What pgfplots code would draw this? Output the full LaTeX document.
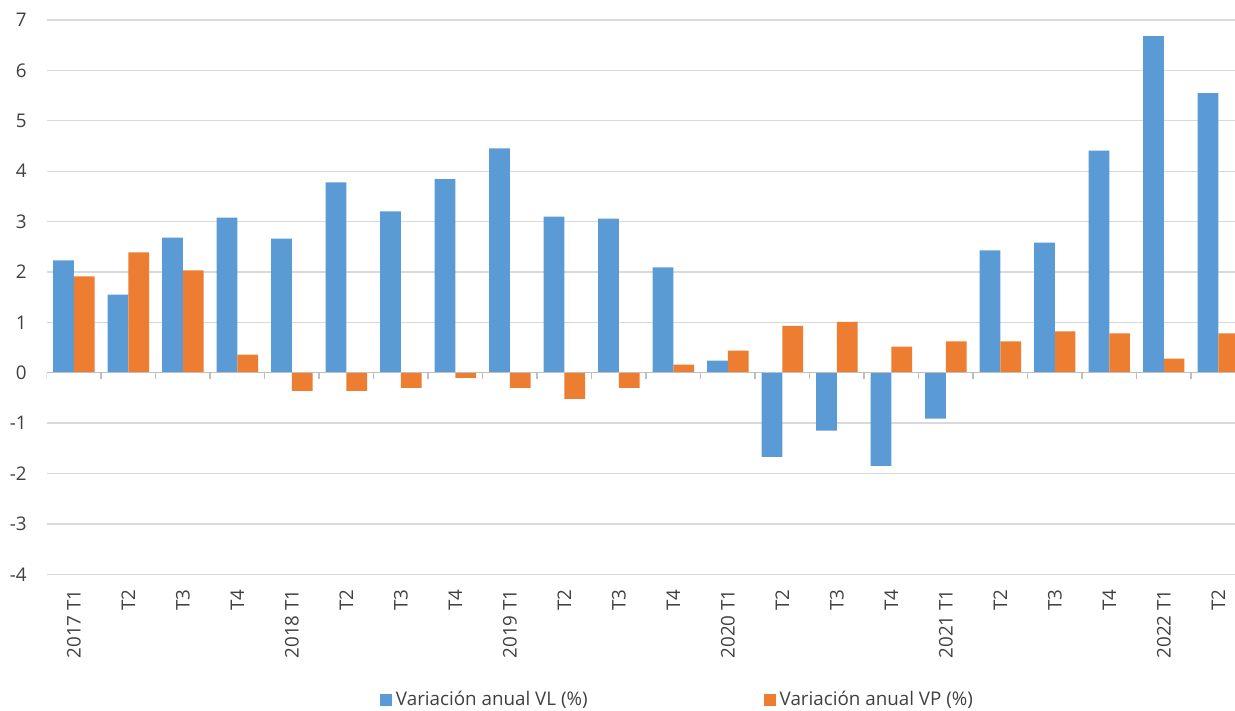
\documentclass[border=0pt]{standalone}
\usepackage{fontspec}
\setmainfont{Open Sans}
\usepackage{pgfplots}
\pgfplotsset{compat=1.18}
\definecolor{cblue}{HTML}{5B9BD5}
\definecolor{corange}{HTML}{ED7D31}
\definecolor{cgrid}{HTML}{D9D9D9}
\definecolor{caxis}{HTML}{BFBFBF}
\definecolor{ctext}{HTML}{404040}
\begin{document}
\begin{tikzpicture}[font=\fontsize{9.4}{11}\selectfont]
\useasboundingbox (0,0) rectangle (617.5pt,355.5pt);
\clip (0,0) rectangle (617.5pt,355.5pt);
\begin{axis}[
 at={(23.35pt,68.35pt)}, anchor=south west,
 scale only axis, width=599.4pt, height=277.15pt,
 xmin=-0.5, xmax=21.5, ymin=-4, ymax=7,
 axis line style={draw=none},
 major tick length=0pt,
 ytick={-4,...,7},
 yticklabels={-4,-3,-2,-1,0,1,2,3,4,5,6,7},
 yticklabel shift=6.5pt,
 ymajorgrids, grid style={cgrid, line width=0.65pt},
 xtick={0,...,21},
 xticklabels={2017 T1,T2,T3,T4,2018 T1,T2,T3,T4,2019 T1,T2,T3,T4,2020 T1,T2,T3,T4,2021 T1,T2,T3,T4,2022 T1,T2},
 xticklabel style={rotate=90, anchor=east},
 xticklabel shift=4pt,
 ticklabel style={text=ctext},
 legend style={at={(0.527,-0.227)}, anchor=center, draw=none, fill=none,
   text=ctext, font=\fontsize{9.4}{11}\selectfont,
   /tikz/every even column/.append style={column sep=86pt}},
 legend columns=2,
 legend cell align=left,
]
\addplot[ybar, bar width=10.35pt, bar shift=-5.175pt, fill=cblue, draw=none,
  legend image code/.code={\fill[cblue] (0pt,-3pt) rectangle (6pt,3pt);}]
 coordinates {(0,2.23) (1,1.55) (2,2.68) (3,3.08) (4,2.66) (5,3.78) (6,3.20) (7,3.84) (8,4.45) (9,3.10) (10,3.06) (11,2.09) (12,0.24) (13,-1.67) (14,-1.15) (15,-1.85) (16,-0.91) (17,2.43) (18,2.58) (19,4.41) (20,6.68) (21,5.55)};
\addlegendentry{Variación anual VL (\%)}
\addplot[ybar, bar width=10.35pt, bar shift=5.175pt, fill=corange, draw=none,
  legend image code/.code={\fill[corange] (0pt,-3pt) rectangle (6pt,3pt);}]
 coordinates {(0,1.91) (1,2.39) (2,2.03) (3,0.36) (4,-0.36) (5,-0.36) (6,-0.30) (7,-0.10) (8,-0.30) (9,-0.52) (10,-0.30) (11,0.16) (12,0.44) (13,0.93) (14,1.01) (15,0.52) (16,0.62) (17,0.62) (18,0.82) (19,0.78) (20,0.28) (21,0.78)};
\addlegendentry{Variación anual VP (\%)}
\draw[caxis, line width=0.7pt] (axis cs:-0.5,0) -- (axis cs:21.5,0);
\pgfplotsinvokeforeach{-0.5,0.5,...,21.5}{\draw[caxis, line width=0.7pt] (axis cs:#1,0) -- ([yshift=-3pt]axis cs:#1,0);}
\end{axis}
\end{tikzpicture}
\end{document}
